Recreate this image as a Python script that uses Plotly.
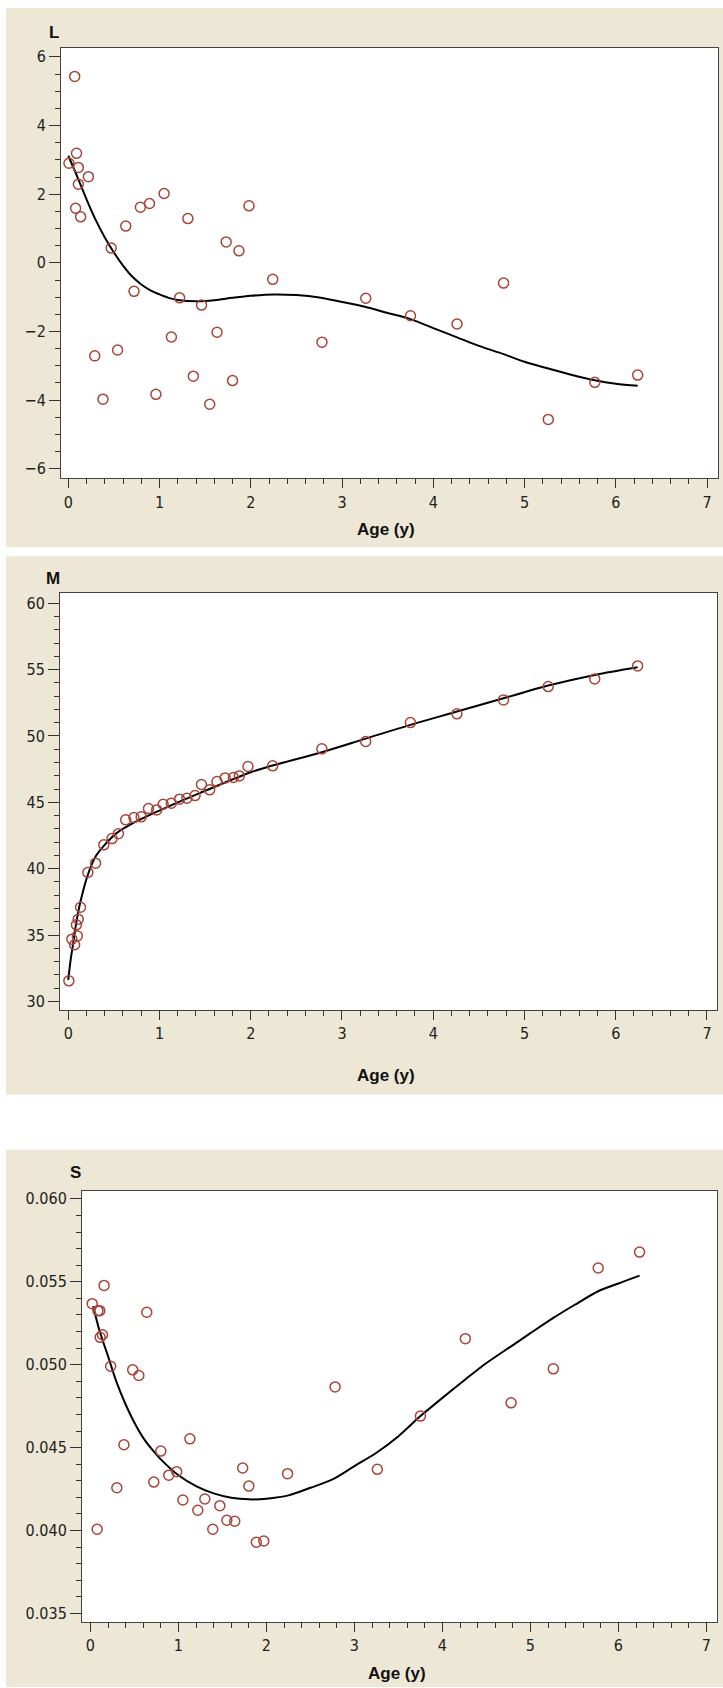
import plotly.graph_objects as go

# ---------------- data ----------------
L_age = [0.007, 0.07, 0.09, 0.11, 0.11, 0.08, 0.135, 0.22, 0.29, 0.38, 0.47, 0.54, 0.63, 0.72, 0.79,
         0.89, 0.96, 1.05, 1.13, 1.22, 1.31, 1.37, 1.46, 1.55, 1.63, 1.73, 1.80, 1.87, 1.98, 2.24,
         2.78, 3.26, 3.75, 4.26, 4.77, 5.26, 5.77, 6.24]
L_val = [2.90, 5.43, 3.19, 2.78, 2.29, 1.59, 1.34, 2.51, -2.71, -3.97, 0.43, -2.54, 1.07, -0.83, 1.62,
         1.73, -3.83, 2.02, -2.16, -1.02, 1.29, -3.30, -1.23, -4.12, -2.02, 0.61, -3.43, 0.35, 1.66, -0.48,
         -2.31, -1.03, -1.54, -1.78, -0.59, -4.56, -3.48, -3.27]
L_fit_age = [0.0, 0.1, 0.2, 0.3, 0.4, 0.5, 0.6, 0.7, 0.8, 0.9, 1.0, 1.1, 1.2, 1.4, 1.6, 1.8, 2.0, 2.25,
             2.5, 2.75, 3.0, 3.25, 3.5, 3.75, 4.0, 4.26, 4.5, 4.77, 5.0, 5.26, 5.5, 5.77, 6.0, 6.24]
L_fit = [3.12, 2.50, 1.85, 1.25, 0.74, 0.30, -0.08, -0.40, -0.63, -0.80, -0.92, -1.02, -1.08, -1.12,
         -1.09, -1.02, -0.96, -0.92, -0.94, -1.01, -1.14, -1.28, -1.46, -1.64, -1.90, -2.17, -2.42,
         -2.66, -2.88, -3.08, -3.25, -3.42, -3.52, -3.58]

M_age = [0.007, 0.04, 0.07, 0.10, 0.09, 0.11, 0.135, 0.215, 0.30, 0.39, 0.48, 0.55, 0.63, 0.72, 0.80,
         0.88, 0.97, 1.04, 1.13, 1.22, 1.30, 1.39, 1.46, 1.55, 1.63, 1.72, 1.81, 1.875, 1.97, 2.24,
         2.78, 3.26, 3.75, 4.26, 4.77, 5.26, 5.77, 6.24]
M_val = [31.55, 34.69, 34.27, 34.94, 35.77, 36.20, 37.10, 39.71, 40.42, 41.80, 42.27, 42.63, 43.68,
         43.86, 43.91, 44.53, 44.43, 44.86, 44.94, 45.24, 45.31, 45.51, 46.34, 45.94, 46.57, 46.84,
         46.87, 46.99, 47.70, 47.75, 49.03, 49.58, 51.01, 51.67, 52.72, 53.72, 54.30, 55.28]
M_fit_age = [0.0, 0.03, 0.055, 0.09, 0.13, 0.215, 0.30, 0.39, 0.53, 0.71, 1.0, 1.44, 2.0, 2.24, 2.78,
             3.26, 3.75, 4.26, 4.77, 5.26, 5.77, 6.24]
M_fit = [31.63, 33.3, 34.4, 36.0, 37.4, 39.54, 40.92, 41.72, 42.68, 43.43, 44.38, 45.69, 47.27, 47.77,
         48.78, 49.80, 50.84, 51.84, 52.84, 53.80, 54.60, 55.18]

S_age = [0.02, 0.085, 0.106, 0.155, 0.137, 0.11, 0.23, 0.076, 0.30, 0.38, 0.48, 0.55, 0.64, 0.72, 0.80,
         0.89, 0.98, 1.05, 1.13, 1.22, 1.30, 1.39, 1.47, 1.55, 1.64, 1.73, 1.80, 1.885, 1.97, 2.24,
         2.78, 3.26, 3.75, 4.26, 4.78, 5.26, 5.77, 6.24]
S_val = [0.05368, 0.05326, 0.05326, 0.05478, 0.05181, 0.05165, 0.04991, 0.04008, 0.04258, 0.04517,
         0.04969, 0.04935, 0.05316, 0.04292, 0.04479, 0.04334, 0.04355, 0.04184, 0.04553, 0.04122,
         0.04190, 0.04008, 0.04150, 0.04062, 0.04056, 0.04377, 0.04268, 0.03929, 0.03937, 0.04343,
         0.04866, 0.04369, 0.04690, 0.05157, 0.04770, 0.04975, 0.05583, 0.05679]
S_fit_age = [0.03, 0.1, 0.2, 0.3, 0.4, 0.5, 0.6, 0.7, 0.8, 1.0, 1.2, 1.4, 1.6, 1.8, 2.0, 2.25, 2.5, 2.75,
             3.0, 3.25, 3.5, 3.75, 4.0, 4.26, 4.5, 4.78, 5.0, 5.26, 5.5, 5.77, 6.0, 6.24]
S_fit = [0.05352, 0.05211, 0.05051, 0.04890, 0.04760, 0.04650, 0.04559, 0.04489, 0.04429, 0.04333,
         0.04268, 0.04224, 0.04198, 0.04188, 0.04192, 0.04212, 0.04258, 0.04308, 0.04389, 0.04469,
         0.04569, 0.04690, 0.04800, 0.04911, 0.05010, 0.05111, 0.05190, 0.05282, 0.05360, 0.05443,
         0.05490, 0.05537]

panel_names = ["L", "M", "S"]
x_title = "Age (y)"

# ---------------- layout helpers ----------------
W, H = 723, 1688
BEIGE = "#EDE7D5"
MARK = "#A8453A"
TICKFONT = dict(family="Liberation Sans Narrow, DejaVu Sans Condensed, Liberation Sans, sans-serif",
                size=16, color="#222222")

def px(x):
    return x / W

def py(y):
    return 1 - y / H

fig = go.Figure()

panels = [
    dict(age=L_age, val=L_val, fa=L_fit_age, fv=L_fit,
         box=(61, 47, 718, 478), xr=[-0.08, 7.12], yr=[-6.28, 6.26],
         dtick=2, minor=0.5, fmt=None, lab=(54, 32), xt=(386, 529)),
    dict(age=M_age, val=M_val, fa=M_fit_age, fv=M_fit,
         box=(60, 593, 717, 1010), xr=[-0.09, 7.11], yr=[29.37, 60.75],
         dtick=5, minor=1, fmt=None, lab=(53, 578), xt=(386, 1076)),
    dict(age=S_age, val=S_val, fa=S_fit_age, fv=S_fit,
         box=(82, 1191, 717, 1623), xr=[-0.096, 7.12], yr=[0.03448, 0.0605],
         dtick=0.005, minor=0.001, fmt=".3f", lab=(75, 1173), xt=(397, 1674)),
]

shapes = []
# beige backgrounds of the three scanned panels
for (y0, y1) in [(7, 547), (556, 1095), (1150, 1688)]:
    shapes.append(dict(type="rect", xref="paper", yref="paper", x0=px(6), x1=1, y0=py(y1), y1=py(y0),
                       fillcolor=BEIGE, line=dict(width=0), layer="below"))

annotations = []
layout_axes = {}
for i, p in enumerate(panels, start=1):
    xa = "x" if i == 1 else f"x{i}"
    ya = "y" if i == 1 else f"y{i}"
    l, t, r, b = p["box"]
    shapes.append(dict(type="rect", xref="paper", yref="paper", x0=px(l), x1=px(r), y0=py(b), y1=py(t),
                       fillcolor="white", line=dict(width=0), layer="below"))
    fig.add_trace(go.Scatter(x=p["fa"], y=p["fv"], mode="lines",
                             line=dict(color="black", width=2, shape="spline", smoothing=0.9),
                             xaxis=xa, yaxis=ya, showlegend=False, hoverinfo="skip"))
    fig.add_trace(go.Scatter(x=p["age"], y=p["val"], mode="markers",
                             marker=dict(symbol="circle-open", size=10, color=MARK,
                                         line=dict(color=MARK, width=1.5)),
                             xaxis=xa, yaxis=ya, showlegend=False))
    xkey = "xaxis" if i == 1 else f"xaxis{i}"
    ykey = "yaxis" if i == 1 else f"yaxis{i}"
    layout_axes[xkey] = dict(domain=[px(l), px(r)], anchor=ya, range=p["xr"], dtick=1, tick0=0,
                             ticks="outside", ticklen=9, tickwidth=1, tickcolor="#333333",
                             minor=dict(dtick=0.2, tick0=0, ticks="outside", ticklen=5,
                                        tickwidth=1, tickcolor="#333333", showgrid=False),
                             showline=True, linecolor="#444444", linewidth=1, mirror=True,
                             showgrid=False, zeroline=False, tickfont=TICKFONT)
    yd = dict(domain=[py(b), py(t)], anchor=xa, range=p["yr"], dtick=p["dtick"], tick0=0,
              ticks="outside", ticklen=11, tickwidth=1, tickcolor="#333333",
              minor=dict(dtick=p["minor"], tick0=0, ticks="outside", ticklen=5,
                         tickwidth=1, tickcolor="#333333", showgrid=False),
              showline=True, linecolor="#444444", linewidth=1, mirror=True,
              showgrid=False, zeroline=False, tickfont=TICKFONT)
    if p["fmt"]:
        yd["tickformat"] = p["fmt"]
    layout_axes[ykey] = yd
    annotations.append(dict(text=f"<b>{panel_names[i-1]}</b>", xref="paper", yref="paper",
                            x=px(p["lab"][0]), y=py(p["lab"][1]), showarrow=False,
                            xanchor="center", yanchor="middle",
                            font=dict(family="Liberation Sans, Arial, sans-serif", size=17, color="#111111")))
    annotations.append(dict(text=f"<b>{x_title}</b>", xref="paper", yref="paper",
                            x=px(p["xt"][0]), y=py(p["xt"][1]), showarrow=False,
                            xanchor="center", yanchor="middle",
                            font=dict(family="Liberation Sans, Arial, sans-serif", size=17, color="#111111")))

fig.update_layout(width=W, height=H, margin=dict(l=0, r=0, t=0, b=0),
                  paper_bgcolor="white", plot_bgcolor="rgba(0,0,0,0)",
                  shapes=shapes, annotations=annotations, showlegend=False, **layout_axes)

fig.write_html("out.html")
